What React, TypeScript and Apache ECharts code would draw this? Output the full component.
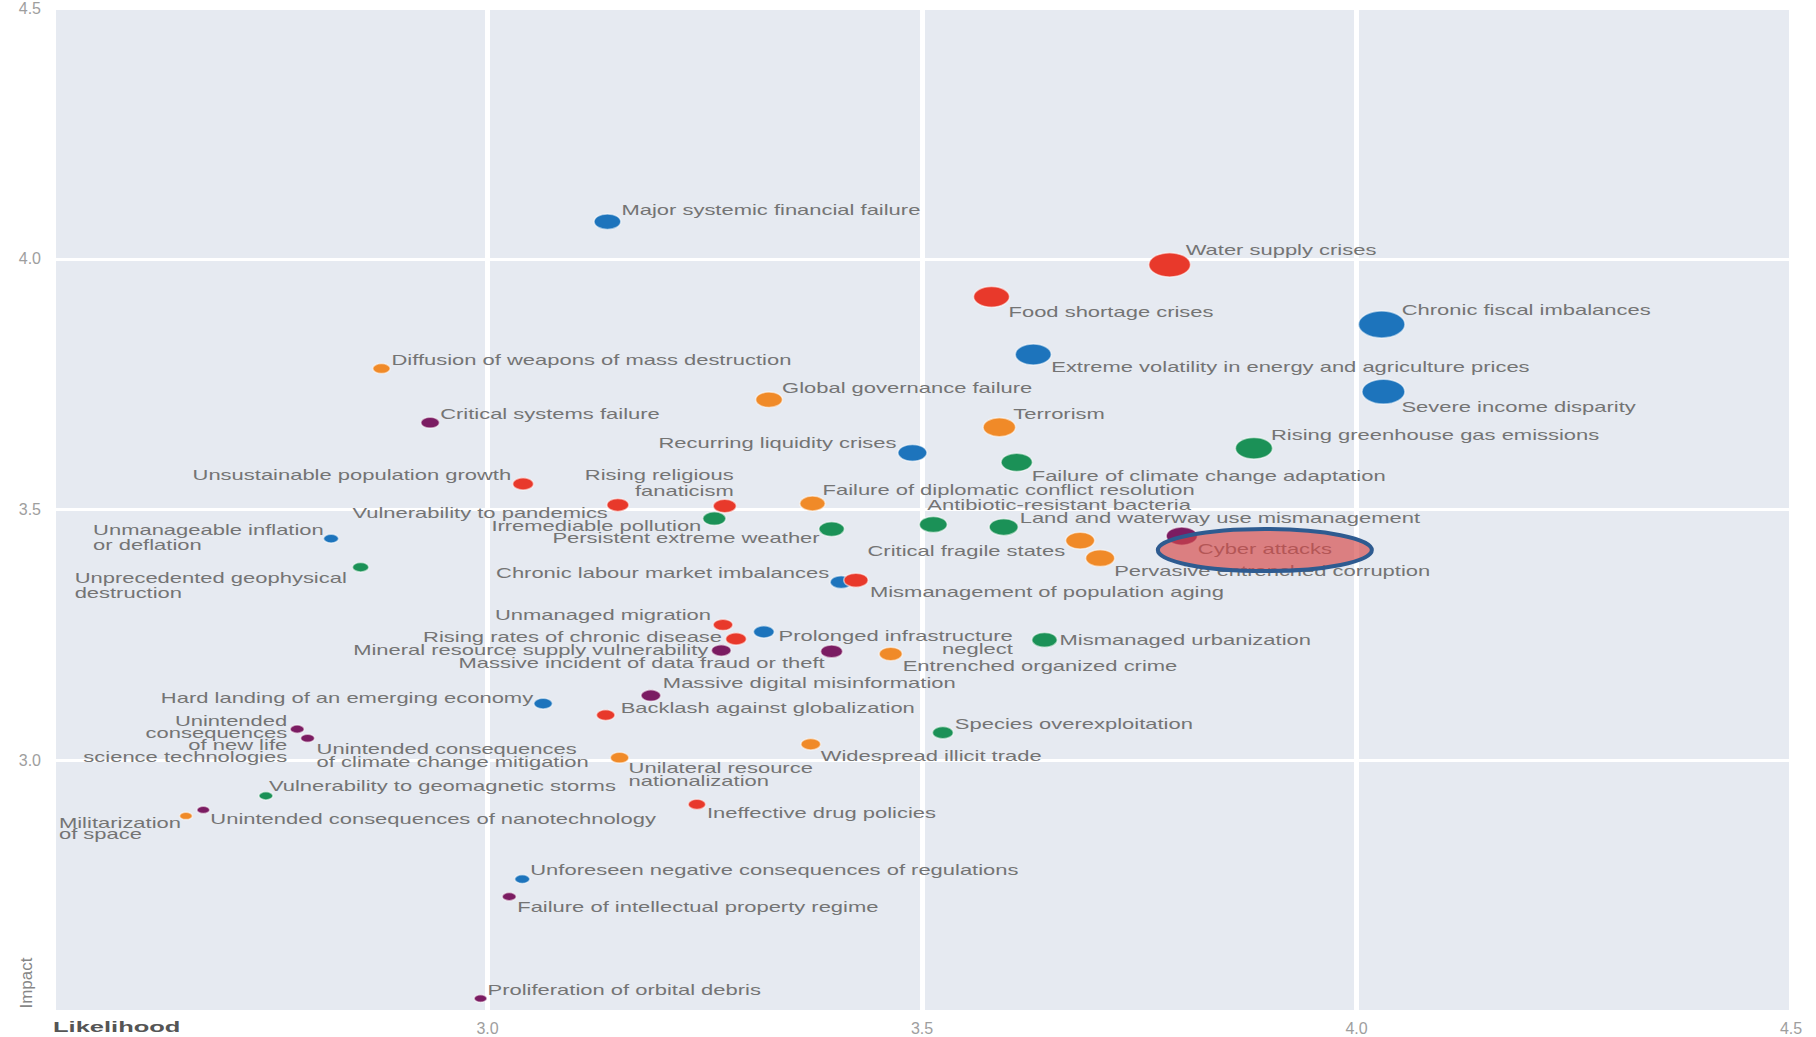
import React, { useEffect, useRef } from "react";
import * as echarts from "echarts";

// ---------------- DATA ----------------
const riskLabels: string[] = [
  "Major systemic financial failure",
  "Water supply crises",
  "Food shortage crises",
  "Chronic fiscal imbalances",
  "Extreme volatility in energy and agriculture prices",
  "Severe income disparity",
  "Diffusion of weapons of mass destruction",
  "Global governance failure",
  "Critical systems failure",
  "Terrorism",
  "Recurring liquidity crises",
  "Rising greenhouse gas emissions",
  "Failure of climate change adaptation",
  "Unsustainable population growth",
  "Rising religious\nfanaticism",
  "Vulnerability to pandemics",
  "Failure of diplomatic conflict resolution",
  "Irremediable pollution",
  "Antibiotic-resistant bacteria",
  "Persistent extreme weather",
  "Land and waterway use mismanagement",
  "Critical fragile states",
  "Pervasive entrenched corruption",
  "Cyber attacks",
  "Unmanageable inflation\nor deflation",
  "Unprecedented geophysical\ndestruction",
  "Chronic labour market imbalances",
  "Mismanagement of population aging",
  "Unmanaged migration",
  "Prolonged infrastructure\nneglect",
  "Rising rates of chronic disease",
  "Mismanaged urbanization",
  "Mineral resource supply vulnerability",
  "Massive incident of data fraud or theft",
  "Entrenched organized crime",
  "Massive digital misinformation",
  "Hard landing of an emerging economy",
  "Backlash against globalization",
  "Species overexploitation",
  "Unintended\nconsequences\nof new life\nscience technologies",
  "Unintended consequences\nof climate change mitigation",
  "Widespread illicit trade",
  "Unilateral resource\nnationalization",
  "Vulnerability to geomagnetic storms",
  "Unintended consequences of nanotechnology",
  "Militarization\nof space",
  "Ineffective drug policies",
  "Unforeseen negative consequences of regulations",
  "Failure of intellectual property regime",
  "Proliferation of orbital debris",
];

const likelihood: number[] = [
  3.138, 3.785, 3.58, 4.029, 3.628, 4.031, 2.878, 3.324, 2.934, 3.589,
  3.489, 3.882, 3.609, 3.041, 3.273, 3.15, 3.374, 3.261, 3.513, 3.396,
  3.594, 3.682, 3.705, 3.799, 2.82, 2.854, 3.407, 3.424, 3.271, 3.318,
  3.286, 3.641, 3.269, 3.396, 3.464, 3.188, 3.064, 3.136, 3.524, 2.781,
  2.793, 3.372, 3.152, 2.745, 2.673, 2.653, 3.241, 3.04, 3.025, 2.992,
];

const impact: number[] = [
  4.074, 3.988, 3.924, 3.869, 3.809, 3.735, 3.781, 3.719, 3.673, 3.664,
  3.613, 3.622, 3.594, 3.551, 3.507, 3.509, 3.512, 3.482, 3.47, 3.461,
  3.465, 3.438, 3.403, 3.447, 3.442, 3.385, 3.355, 3.359, 3.27, 3.256,
  3.242, 3.24, 3.219, 3.217, 3.212, 3.129, 3.113, 3.09, 3.055, 3.062,
  3.044, 3.032, 3.005, 2.929, 2.901, 2.889, 2.912, 2.763, 2.728, 2.525,
];

const riskCategory: string[] = [
  "Economic", "Societal", "Societal", "Economic", "Economic", "Economic", "Geopolitical", "Geopolitical", "Technological", "Geopolitical",
  "Economic", "Environmental", "Environmental", "Societal", "Societal", "Societal", "Geopolitical", "Environmental", "Environmental", "Environmental",
  "Environmental", "Geopolitical", "Geopolitical", "Technological", "Economic", "Environmental", "Economic", "Societal", "Societal", "Economic",
  "Societal", "Environmental", "Technological", "Technological", "Geopolitical", "Technological", "Economic", "Societal", "Environmental", "Technological",
  "Technological", "Geopolitical", "Geopolitical", "Environmental", "Technological", "Geopolitical", "Societal", "Economic", "Technological", "Technological",
];

const bubbleWeight: number[] = [
  2.3, 3.6, 3.1, 4.0, 3.1, 3.7, 1.5, 2.3, 1.6, 2.8,
  2.5, 3.2, 2.7, 1.8, 2.0, 1.9, 2.2, 2.0, 2.4, 2.2,
  2.5, 2.5, 2.5, 2.7, 1.3, 1.4, 1.9, 2.1, 1.7, 1.8,
  1.8, 2.2, 1.7, 1.9, 2.0, 1.7, 1.6, 1.6, 1.8, 1.2,
  1.2, 1.7, 1.6, 1.2, 1.1, 1.1, 1.5, 1.3, 1.2, 1.1,
];

const highlightedRisk = "Cyber attacks";
const xAxisTitle = "Likelihood";
const yAxisTitle = "Impact";

// ---------------- STYLE / LAYOUT ----------------
const categoryColors: Record<string, string> = {
  Economic: "#1d74bc",
  Societal: "#e8392b",
  Geopolitical: "#f08a28",
  Environmental: "#1b9157",
  Technological: "#7b1c62",
};

const TEXT_STRETCH = 1.57;
const LABEL_FONT = '14px "Liberation Sans", Arial, sans-serif';

// label offset from dot centre (px), alignment of text anchor, line height
const labelLayout: [number, number, "left" | "right", number][] = [
  [14, -12, "left", 15], [16, -15, "left", 15], [17, 15, "left", 15], [20, -14, "left", 15], [18, 13, "left", 15],
  [18, 15, "left", 15], [10, -9, "left", 15], [13, -12, "left", 15], [10, -9, "left", 15], [14, -13, "left", 15],
  [-16, -10, "right", 15], [17, -13, "left", 15], [15, 14, "left", 15], [-12, -9, "right", 15], [9, -23, "right", 16],
  [-10, 8, "right", 15], [10, -13, "left", 15], [-13, 8, "right", 15], [-6, -19, "left", 15], [-12, 9, "right", 15],
  [16, -9, "left", 15], [-15, 10, "right", 15], [14, 13, "left", 15], [16, 13, "left", 15], [-238, -1, "left", 15],
  [-286, 18, "left", 15], [-12, -9, "right", 15], [14, 12, "left", 15], [-12, -10, "right", 15], [249, 11, "right", 13],
  [-14, -2, "right", 15], [15, 0, "left", 15], [-13, 0, "right", 15], [-7, 12, "right", 15], [12, 12, "left", 15],
  [12, -12, "left", 15], [-10, -6, "right", 15], [15, -7, "left", 15], [12, -9, "left", 15], [-10, 10, "right", 12],
  [9, 17, "left", 13], [10, 12, "left", 15], [9, 17, "left", 13], [3, -10, "left", 15], [7, 9, "left", 15],
  [-127, 13, "left", 11], [10, 9, "left", 15], [8, -9, "left", 15], [8, 10, "left", 15], [7, -8, "left", 15],
];

function renderRisk(params: any, api: any) {
  const i = params.dataIndex;
  const p = api.coord([api.value(0), api.value(1)]);
  const w = api.value(2) * 11.6;
  const h = w * 0.58;
  const [dx, dy, align, lh] = labelLayout[i];
  return {
    type: "group",
    children: [
      {
        type: "ellipse",
        shape: { cx: p[0], cy: p[1], rx: w / 2, ry: h / 2 },
        style: {
          fill: categoryColors[riskCategory[i]],
          stroke: "rgba(255,255,255,0.55)",
          lineWidth: 1.5,
        },
      },
      {
        type: "text",
        x: p[0] + dx,
        y: p[1] + dy,
        scaleX: TEXT_STRETCH,
        style: {
          text: riskLabels[i],
          fill: "#747474",
          font: LABEL_FONT,
          align,
          textAlign: align,
          verticalAlign: "middle",
          textVerticalAlign: "middle",
          lineHeight: lh,
        },
      },
    ],
  };
}

function renderHighlight(params: any, api: any) {
  const p = api.coord([api.value(0), api.value(1)]);
  return {
    type: "ellipse",
    shape: { cx: p[0] + 83, cy: p[1] + 14, rx: 107, ry: 21 },
    style: {
      fill: "rgba(212,72,72,0.66)",
      stroke: "#2e5b90",
      lineWidth: 4,
    },
  };
}

export default function App() {
  const ref = useRef<HTMLDivElement>(null);

  useEffect(() => {
    if (!ref.current) return;
    const chart = echarts.init(ref.current, undefined, { renderer: "svg" });
    const points = likelihood.map((x, i) => [x, impact[i], bubbleWeight[i]]);
    const hi = riskLabels.indexOf(highlightedRisk);

    const tickFmt = (v: number) => v.toFixed(1);

    chart.setOption({
      animation: false,
      backgroundColor: "#ffffff",
      grid: {
        left: 53,
        right: 25,
        top: 6,
        bottom: 26,
        show: true,
        backgroundColor: "#e6eaf1",
        borderWidth: 0,
      },
      xAxis: {
        type: "value",
        min: 2.5,
        max: 4.5,
        interval: 0.5,
        axisLine: { show: false },
        axisTick: { show: false },
        splitLine: { show: true, lineStyle: { color: "#ffffff", width: 5 } },
        axisLabel: {
          showMinLabel: false,
          color: "#9e9e9e",
          fontSize: 16,
          fontFamily: "Liberation Sans",
          margin: 9,
          formatter: tickFmt,
        },
      },
      yAxis: {
        type: "value",
        min: 2.5,
        max: 4.5,
        interval: 0.5,
        axisLine: { show: false },
        axisTick: { show: false },
        splitLine: { show: true, lineStyle: { color: "#ffffff", width: 3 } },
        axisLabel: {
          showMinLabel: false,
          color: "#9e9e9e",
          fontSize: 16,
          fontFamily: "Liberation Sans",
          margin: 12,
          formatter: tickFmt,
        },
      },
      series: [
        {
          type: "custom",
          name: "Global risks",
          data: points,
          encode: { x: 0, y: 1 },
          renderItem: renderRisk,
          z: 3,
        },
        {
          type: "custom",
          name: "Highlight",
          data: [[likelihood[hi], impact[hi]]],
          encode: { x: 0, y: 1 },
          renderItem: renderHighlight,
          z: 10,
        },
      ],
      graphic: [
        {
          type: "text",
          x: 26,
          y: 983,
          rotation: Math.PI / 2,
          style: {
            text: yAxisTitle,
            font: '17px "Liberation Sans", Arial, sans-serif',
            fill: "#868686",
            align: "center",
            textAlign: "center",
            verticalAlign: "middle",
            textVerticalAlign: "middle",
          },
        },
        {
          type: "text",
          x: 53,
          y: 1027,
          scaleX: 1.7,
          style: {
            text: xAxisTitle,
            font: 'bold 15px "Liberation Sans", Arial, sans-serif',
            fill: "#555555",
            align: "left",
            textAlign: "left",
            verticalAlign: "middle",
            textVerticalAlign: "middle",
          },
        },
      ],
    });

    return () => chart.dispose();
  }, []);

  return (
    <div
      ref={ref}
      style={{ position: "fixed", left: 0, top: 0, width: 1816, height: 1037, background: "#fff" }}
    />
  );
}
